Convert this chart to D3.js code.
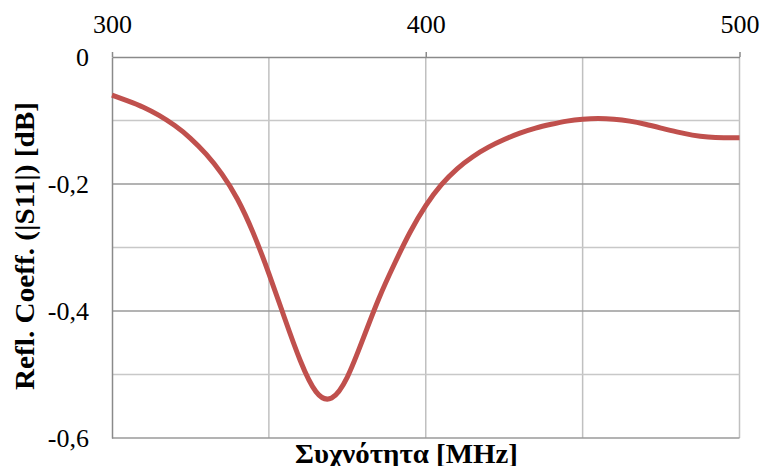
<!DOCTYPE html>
<html>
<head>
<meta charset="utf-8">
<script src="https://cdn.jsdelivr.net/npm/d3@7"></script>
<style>
  html, body { margin: 0; padding: 0; background: #fff; }
  svg { display: block; }
  text { font-family: "Liberation Serif", "Times New Roman", serif; fill: #000; }
</style>
</head>
<body>
<svg id="chart" width="761" height="466"></svg>
<script>
// Frequency sweep (MHz) and measured reflection coefficient |S11| (dB)
const freqMHz = [300, 305, 310, 315, 320, 325, 330, 335, 340, 345, 350, 355, 360, 365, 370,
                 375, 380, 385, 390, 395, 400, 405, 410, 415, 420, 425, 430, 435, 440, 445,
                 450, 455, 460, 465, 470, 475, 480, 485, 490, 495, 500];
const s11dB = [-0.060, -0.069, -0.079, -0.092, -0.108, -0.128, -0.153, -0.184, -0.224, -0.277,
               -0.341, -0.411, -0.478, -0.527, -0.537, -0.504, -0.444, -0.381, -0.326, -0.276,
               -0.234, -0.201, -0.176, -0.157, -0.142, -0.130, -0.120, -0.112, -0.106, -0.101,
               -0.098, -0.097, -0.098, -0.101, -0.106, -0.112, -0.118, -0.123, -0.126, -0.127, -0.127];

const xTicks = [300, 400, 500];
const xMinorGrid = [350, 450];
const yTicks = [0, -0.2, -0.4, -0.6];
const yMinorGrid = [-0.1, -0.3, -0.5];
const yTickLabels = ["0", "-0,2", "-0,4", "-0,6"];

const xTitle = "Συχνότητα [MHz]";
const yTitle = "Refl. Coeff. (|S11|) [dB]";

const svg = d3.select("#chart");
const plot = { left: 112, right: 739.5, top: 57, bottom: 438 };

const x = d3.scaleLinear().domain([300, 500]).range([plot.left, plot.right]);
const y = d3.scaleLinear().domain([-0.6, 0]).range([plot.bottom, plot.top]);

// Vertical gridlines
const g = svg.append("g");
g.selectAll("line.vgrid")
  .data(xMinorGrid.concat([400, 500]))
  .join("line")
  .attr("x1", d => x(d)).attr("x2", d => x(d))
  .attr("y1", plot.top).attr("y2", plot.bottom)
  .attr("stroke", "#c0c0c0").attr("stroke-width", 1.5);

// Minor horizontal gridlines
g.selectAll("line.hminor")
  .data(yMinorGrid)
  .join("line")
  .attr("x1", plot.left).attr("x2", plot.right)
  .attr("y1", d => y(d)).attr("y2", d => y(d))
  .attr("stroke", "#c8c8c8").attr("stroke-width", 1.5);

// Major horizontal gridlines
g.selectAll("line.hmajor")
  .data([-0.2, -0.4, -0.6])
  .join("line")
  .attr("x1", plot.left).attr("x2", plot.right)
  .attr("y1", d => y(d)).attr("y2", d => y(d))
  .attr("stroke", "#9a9a9a").attr("stroke-width", 1.5);

// Top axis (crossing at 0) with outward ticks
const xAxis = d3.axisTop(x).tickValues(xTicks).tickSize(5).tickSizeOuter(0).tickFormat(d3.format("d"));
const xa = svg.append("g").attr("transform", `translate(0,${y(0)})`).call(xAxis);
xa.select(".domain").attr("stroke", "#8a8a8a").attr("stroke-width", 1.5);
xa.selectAll(".tick line").attr("stroke", "#8a8a8a").attr("stroke-width", 1.5);
xa.selectAll(".tick text")
  .attr("font-family", "Liberation Serif, Times New Roman, serif")
  .attr("font-size", 26).attr("fill", "#000")
  .attr("y", -24);

// Left axis
const yAxis = d3.axisLeft(y).tickValues(yTicks).tickSize(0).tickSizeOuter(0)
  .tickFormat((d, i) => yTickLabels[i]);
const ya = svg.append("g").attr("transform", `translate(${plot.left},0)`).call(yAxis);
ya.select(".domain").attr("stroke", "#8a8a8a").attr("stroke-width", 1.5);
ya.selectAll(".tick text")
  .attr("font-family", "Liberation Serif, Times New Roman, serif")
  .attr("font-size", 26).attr("fill", "#000")
  .attr("x", -23);

// Data curve
const line = d3.line()
  .x((d, i) => x(freqMHz[i]))
  .y(d => y(d))
  .curve(d3.curveNatural);

svg.append("path")
  .datum(s11dB)
  .attr("d", line)
  .attr("fill", "none")
  .attr("stroke", "#c0504d")
  .attr("stroke-width", 5)
  .attr("stroke-linejoin", "round")
  .attr("stroke-linecap", "butt");

// Axis titles
svg.append("text")
  .attr("x", 406.5).attr("y", 463)
  .attr("text-anchor", "middle")
  .attr("font-size", 27).attr("font-weight", "bold")
  .attr("textLength", 223).attr("lengthAdjust", "spacingAndGlyphs")
  .text(xTitle);

svg.append("text")
  .attr("transform", "translate(34,246) rotate(-90)")
  .attr("text-anchor", "middle")
  .attr("font-size", 27).attr("font-weight", "bold")
  .attr("textLength", 288).attr("lengthAdjust", "spacingAndGlyphs")
  .text(yTitle);
</script>
</body>
</html>
